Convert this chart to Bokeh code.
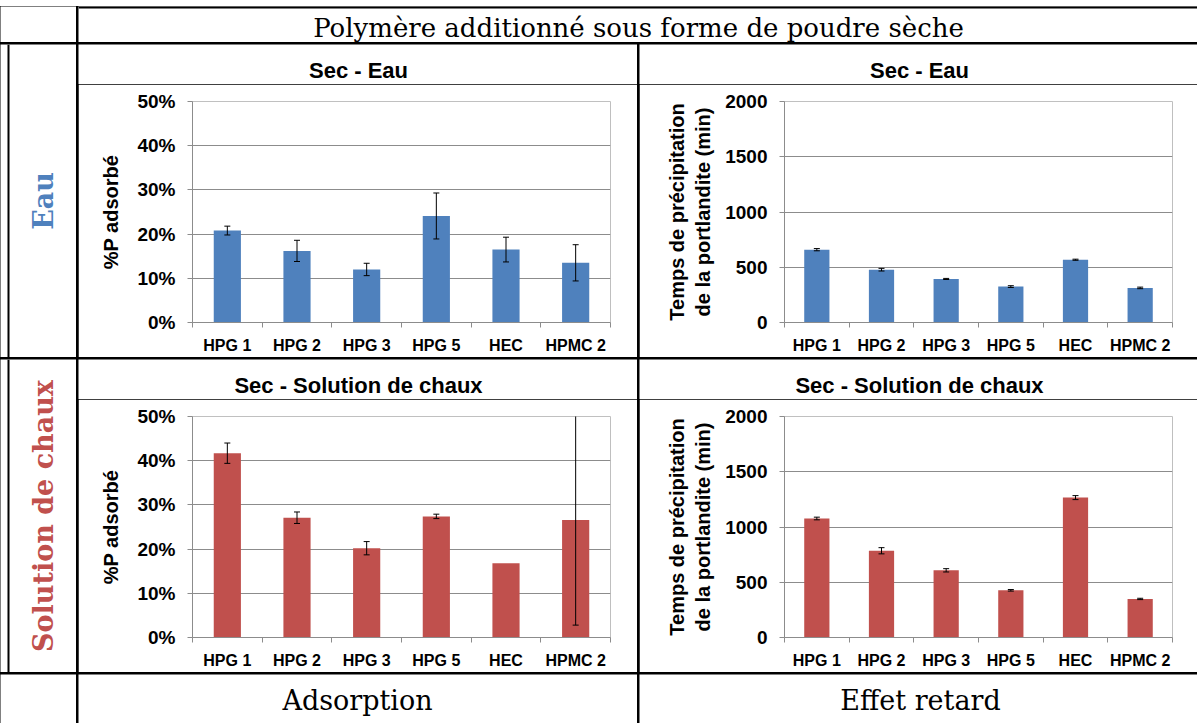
from bokeh.plotting import figure
from bokeh.models import GridBox, Column, Range1d, FixedTicker, Label, Span, PrintfTickFormatter
from bokeh.embed import file_html
from bokeh.resources import INLINE

# ---------------- data ----------------
header_text = "Polymère additionné sous forme de poudre sèche"
row_labels = ["Eau", "Solution de chaux"]
col_labels = ["Adsorption", "Effet retard"]
chart_titles = ["Sec - Eau", "Sec - Solution de chaux"]
categories = ["HPG 1", "HPG 2", "HPG 3", "HPG 5", "HEC", "HPMC 2"]

eau_ads = [20.8, 16.2, 12.0, 24.1, 16.5, 13.5]
eau_ads_err = [1.0, 2.4, 1.4, 5.2, 2.8, 4.1]
eau_ret = [659, 478, 394, 325, 568, 313]
eau_ret_err = [10, 12, 5, 8, 5, 7]
chaux_ads = [41.7, 27.1, 20.2, 27.4, 16.8, 26.6]
chaux_ads_err = [2.3, 1.3, 1.5, 0.5, 0.0, 23.8]
chaux_ret = [1077, 785, 608, 427, 1266, 349]
chaux_ret_err = [12, 28, 15, 7, 18, 6]

ads_label = "%P adsorbé"
ret_label = "Temps de précipitation\nde la portlandite (min)"

# ---------------- style ----------------
BLUE = "#4F81BD"
RED = "#C0504D"
GRID = "#8C8C8C"
SANS = "Liberation Sans"
SERIF = "DejaVu Serif"

W0, W1, W2 = 76, 559, 558
H0, H1, H3 = 36, 313, 49
TOP = 6   # blank strip above the table
TH = 40   # title strip height inside a chart cell


def text_cell(w, h, text=None, color="black", size="24px", bold=False, angle=0.0,
              tx=None, ty=None, font=SERIF, vline=None, hline=None):
    p = figure(width=w, height=h, x_range=Range1d(0, w), y_range=Range1d(0, h),
               x_axis_type=None, y_axis_type=None, output_backend="svg",
               toolbar_location=None, min_border=0, frame_align=False)
    p.outline_line_color = None
    p.grid.visible = False
    if text:
        p.add_layout(Label(x=w / 2 if tx is None else tx, y=h / 2 if ty is None else ty,
                           text=text, text_align="center", text_baseline="middle",
                           angle=angle, text_font=font, text_font_size=size,
                           text_font_style="bold" if bold else "normal",
                           text_color=color))
    if vline is not None:
        p.add_layout(Span(location=vline, dimension="height", line_color="black", line_width=2))
    if hline is not None:
        p.add_layout(Span(location=hline, dimension="width", line_color="black", line_width=2))
    return p


def chart(title, vals, errs, color, ymax, ystep, ylabel, pct, w, left, right, label_standoff):
    n = len(categories)
    xs = list(range(n))
    p = figure(width=w, height=H1 - TH, x_range=Range1d(-0.5, n - 0.5), y_range=Range1d(0, ymax),
               output_backend="svg", toolbar_location=None, frame_align=False,
               min_border_left=left, min_border_right=right,
               min_border_top=57 - TH, min_border_bottom=35)
    p.outline_line_color = None
    p.xgrid.visible = False
    yt = FixedTicker(ticks=list(range(0, ymax + 1, ystep)))
    p.yaxis[0].ticker = yt
    p.ygrid[0].ticker = yt
    p.ygrid.grid_line_color = GRID
    p.ygrid.grid_line_width = 1

    p.vbar(x=xs, top=vals, bottom=0, width=0.39, fill_color=color, line_color=None)

    ex = [x for x, e in zip(xs, errs) if e > 0]
    lo = [v - e for v, e in zip(vals, errs) if e > 0]
    hi = [v + e for v, e in zip(vals, errs) if e > 0]
    p.segment(x0=ex, y0=lo, x1=ex, y1=hi, line_color="black", line_width=1)
    p.scatter(x=ex, y=hi, marker="dash", size=6, line_color="black", line_width=1)
    p.scatter(x=ex, y=lo, marker="dash", size=6, line_color="black", line_width=1)

    ya = p.yaxis[0]
    if pct:
        ya.formatter = PrintfTickFormatter(format="%d%%")
    ya.axis_line_color = GRID
    ya.major_tick_line_color = GRID
    ya.major_tick_out = 5
    ya.major_tick_in = 0
    ya.minor_tick_line_color = None
    ya.major_label_text_font = SANS
    ya.major_label_text_font_style = "bold"
    ya.major_label_text_font_size = "19px"
    ya.major_label_text_color = "black"
    ya.major_label_standoff = 12
    ya.axis_label = ylabel
    ya.axis_label_text_font = SANS
    ya.axis_label_text_font_style = "bold"
    ya.axis_label_text_font_size = "20px"
    ya.axis_label_text_color = "black"
    ya.axis_label_standoff = label_standoff

    xa = p.xaxis[0]
    xa.ticker = FixedTicker(ticks=xs, minor_ticks=[x - 0.5 for x in range(n + 1)])
    xa.major_label_overrides = {x: c for x, c in zip(xs, categories)}
    xa.axis_line_color = GRID
    xa.major_tick_line_color = None
    xa.major_tick_out = 0
    xa.major_tick_in = 0
    xa.minor_tick_line_color = GRID
    xa.minor_tick_out = 5
    xa.minor_tick_in = 0
    xa.major_label_text_font = SANS
    xa.major_label_text_font_style = "bold"
    xa.major_label_text_font_size = "16px"
    xa.major_label_text_color = "black"
    xa.major_label_standoff = 9

    t = text_cell(w, TH, title, size="22px", bold=True, tx=280, ty=TH - 26, font=SANS)
    return Column(children=[t, p], spacing=0)


c1 = chart(chart_titles[0], eau_ads, eau_ads_err, BLUE, 50, 10, ads_label, True, W1, 114, 27, 12)
c2 = chart(chart_titles[0], eau_ret, eau_ret_err, BLUE, 2000, 500, ret_label, False, W2, 145, 25, 8)
c3 = chart(chart_titles[1], chaux_ads, chaux_ads_err, RED, 50, 10, ads_label, True, W1, 114, 27, 12)
c4 = chart(chart_titles[1], chaux_ret, chaux_ret_err, RED, 2000, 500, ret_label, False, W2, 145, 25, 8)

blank_top = text_cell(W0, H0)
header = text_cell(W1 + 2 + W2, H0, header_text, size="26px", tx=560, ty=H0 - 21, hline=H0 - 1)
eau_cell = text_cell(W0, H1, row_labels[0], color=BLUE, size="27px", bold=True,
                     angle=1.5707963, tx=43, vline=8)
chaux_cell = text_cell(W0, H1, row_labels[1], color=RED, size="27px", bold=True,
                       angle=1.5707963, tx=43, vline=8)
blank_bot = text_cell(W0, H3)
ads_cell = text_cell(W1, H3, col_labels[0], size="27px", tx=279, ty=H3 - 26)
ret_cell = text_cell(W2, H3, col_labels[1], size="27px", tx=281, ty=H3 - 26)

grid = GridBox(children=[
    (blank_top, 0, 0), (header, 0, 1, 1, 2),
    (eau_cell, 1, 0), (c1, 1, 1), (c2, 1, 2),
    (chaux_cell, 2, 0), (c3, 2, 1), (c4, 2, 2),
    (blank_bot, 3, 0), (ads_cell, 3, 1), (ret_cell, 3, 2),
], spacing=2, styles={"background-color": "black", "margin-top": f"{TOP}px"})

open("out.html", "w").write(file_html(grid, INLINE))
